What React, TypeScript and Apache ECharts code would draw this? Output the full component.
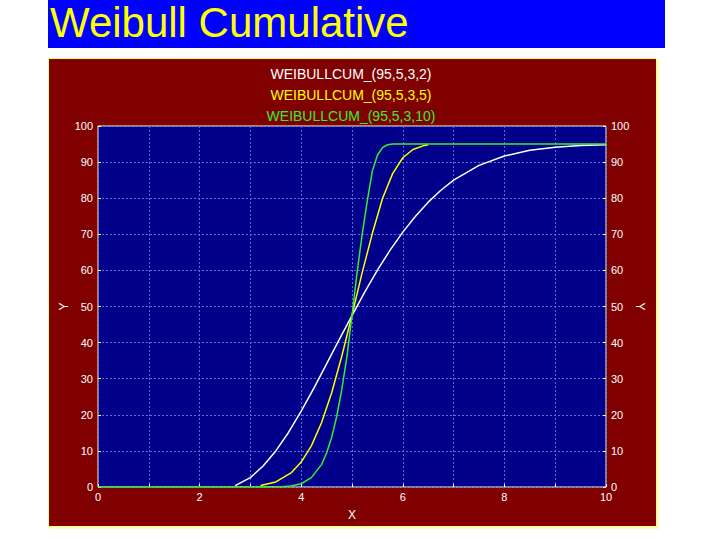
import React, { useEffect, useRef } from "react";
import * as echarts from "echarts";

const titleText = "Weibull Cumulative";
const legendLabels = ["WEIBULLCUM_(95,5,3,2)", "WEIBULLCUM_(95,5,3,5)", "WEIBULLCUM_(95,5,3,10)"];
const seriesColors = ["#ffffff", "#ffff00", "#33ee33"];

const xWhite = [2.7, 3.0, 3.25, 3.5, 3.75, 4.0, 4.25, 4.5, 4.75, 5.0, 5.25, 5.5, 5.75, 6.0, 6.25, 6.5, 6.75, 7.0, 7.5, 8.0, 8.5, 9.0, 9.5, 10];
const yWhite = [0.4, 2.6, 5.8, 10.0, 15.1, 21.0, 27.4, 34.1, 40.9, 47.5, 54.0, 60.1, 65.6, 70.6, 75.0, 78.9, 82.2, 85.0, 89.1, 91.7, 93.3, 94.1, 94.6, 94.8];

const xYellow = [3.2, 3.5, 3.8, 4.0, 4.2, 4.4, 4.6, 4.8, 5.0, 5.2, 5.4, 5.6, 5.8, 6.0, 6.2, 6.4, 6.5];
const yYellow = [0.4, 1.4, 3.9, 6.9, 11.4, 17.8, 26.1, 36.3, 47.6, 59.4, 70.2, 79.9, 86.8, 91.2, 93.5, 94.5, 94.8];

const xGreen = [0, 3.6, 3.8, 4.0, 4.2, 4.4, 4.5, 4.6, 4.7, 4.8, 4.9, 5.0, 5.1, 5.2, 5.3, 5.4, 5.5, 5.6, 5.7, 5.8, 10];
const yGreen = [0, 0.1, 0.3, 0.9, 2.6, 6.2, 9.4, 13.8, 19.6, 27.1, 36.1, 47.5, 59.4, 70.0, 79.2, 87.5, 91.9, 94.0, 94.8, 95, 95];

const pairs = (xs: number[], ys: number[]) => xs.map((x, i) => [x, ys[i]]);

export default function App() {
  const ref = useRef<HTMLDivElement>(null);
  useEffect(() => {
    if (!ref.current) return;
    const chart = echarts.init(ref.current, undefined, { renderer: "svg" });
    const font = "'Liberation Sans', Arial, sans-serif";
    const axisLabel = { color: "#ffffff", fontSize: 11, fontFamily: font };
    const yAxisBase = {
      type: "value",
      min: 0,
      max: 100,
      interval: 10,
      nameLocation: "middle",
      nameMoveOverlap: false,
      nameTextStyle: { color: "#ffffff", fontSize: 12, fontFamily: font },
      axisLine: { show: false },
      axisTick: { show: true, inside: true, length: 3, lineStyle: { color: "#ffff66" } },
      axisLabel: { ...axisLabel, margin: 5 },
    };
    chart.setOption({
      animation: false,
      backgroundColor: "#ffffff",
      graphic: [
        { type: "rect", z: -10, shape: { x: 48, y: 0, width: 617, height: 48 }, style: { fill: "#0000ff" } },
        {
          type: "text",
          z: -9,
          x: 50,
          y: 22,
          style: {
            text: titleText,
            fill: "#ffff00",
            font: `42px ${font}`,
            lineHeight: 40,
            textVerticalAlign: "middle",
          },
        },
        { type: "rect", z: -10, shape: { x: 50, y: 60, width: 609, height: 469 }, style: { fill: "#fff6cc" } },
        {
          type: "rect",
          z: -10,
          shape: { x: 48.5, y: 58.5, width: 608, height: 468 },
          style: { fill: "#800000", stroke: "#ffff70", lineWidth: 1 },
        },
        ...legendLabels.map((t, i) => ({
          type: "text",
          z: -9,
          x: 351,
          y: 74 + i * 21,
          style: {
            text: t,
            fill: seriesColors[i],
            font: `14px ${font}`,
            textAlign: "center",
            textVerticalAlign: "middle",
          },
        })),
      ],
      grid: {
        left: 98,
        right: 114,
        top: 126,
        bottom: 53,
        show: true,
        backgroundColor: "#00008b",
        borderColor: "#ffffd0",
        borderWidth: 1,
      },
      xAxis: {
        type: "value",
        min: 0,
        max: 10,
        interval: 1,
        name: "X",
        nameLocation: "middle",
        nameGap: 22,
        nameMoveOverlap: false,
        nameTextStyle: { color: "#ffffff", fontSize: 12, fontFamily: font },
        axisLine: { show: false },
        axisTick: { show: true, inside: true, length: 3, lineStyle: { color: "#ffffff" } },
        axisLabel: { ...axisLabel, margin: 4, formatter: (v: number) => (v % 2 === 0 ? String(v) : "") },
        splitLine: { show: true, lineStyle: { color: "#4f6fe0", type: [2, 2], width: 1 } },
      },
      yAxis: [
        {
          ...yAxisBase,
          name: "Y",
          position: "left",
          nameGap: 28,
          nameRotate: 90,
          splitLine: { show: true, lineStyle: { color: "#4f6fe0", type: [2, 2], width: 1 } },
        },
        {
          ...yAxisBase,
          name: "Y",
          position: "right",
          nameGap: 28,
          nameRotate: -90,
          splitLine: { show: false },
        },
      ],
      series: [
        { xs: xWhite, ys: yWhite },
        { xs: xYellow, ys: yYellow },
        { xs: xGreen, ys: yGreen },
      ].map((s, i) => ({
        type: "line",
        data: pairs(s.xs, s.ys),
        showSymbol: false,
        smooth: false,
        lineStyle: { color: seriesColors[i], width: 1.5 },
        itemStyle: { color: seriesColors[i] },
        z: 3 + i,
      })),
    });
    return () => chart.dispose();
  }, []);
  return <div ref={ref} style={{ position: "absolute", left: 0, top: 0, width: 720, height: 540 }} />;
}
